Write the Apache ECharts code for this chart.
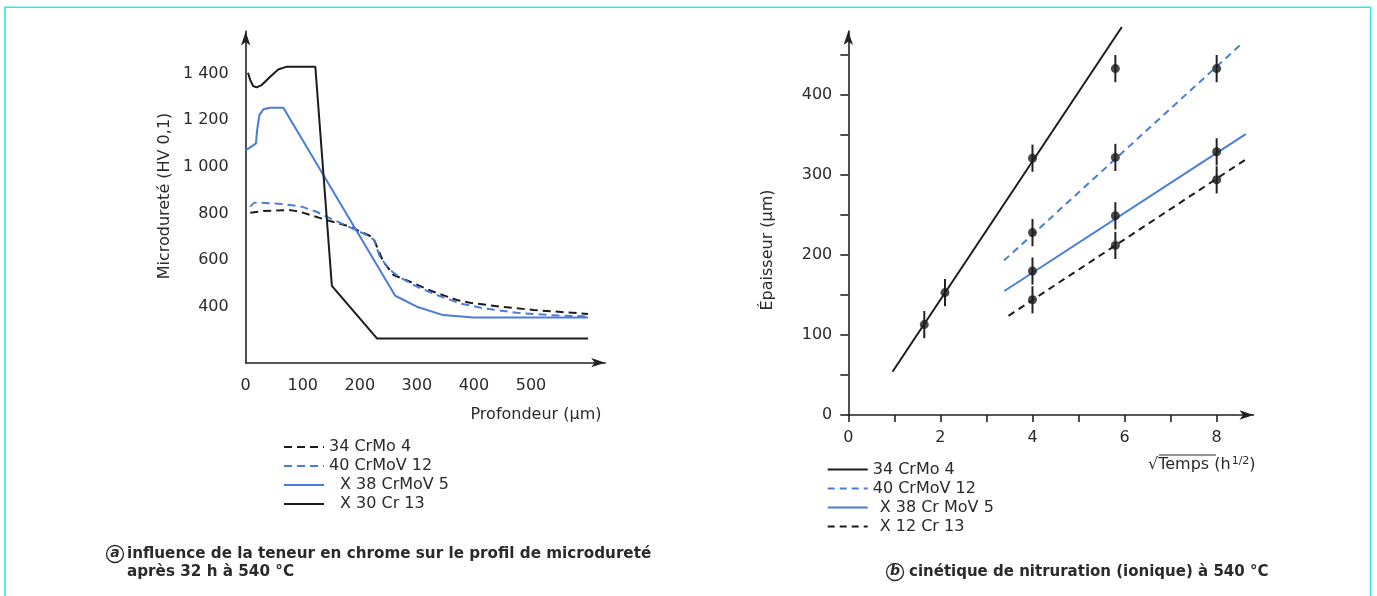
<!DOCTYPE html>
<html>
<head>
<meta charset="utf-8">
<script src="https://cdn.jsdelivr.net/npm/echarts@6/dist/echarts.min.js"></script>
<style>html,body{margin:0;padding:0;background:#fff}#c{width:1377px;height:596px}</style>
</head>
<body>
<div id="c"></div>
<script>
// ---------- Chart (a): microdureté vs profondeur ----------
const a_34CrMo4_depth = [8, 31, 78, 95, 113, 142, 183, 218, 225, 241, 259, 288, 329, 370, 393, 446, 504, 600];
const a_34CrMo4_hv    = [803, 810, 814, 807, 793, 771, 743, 703, 686, 593, 536, 507, 464, 429, 417, 400, 386, 369];

const a_40CrMoV12_depth = [8, 15, 25, 66, 98, 124, 148, 183, 218, 225, 235, 253, 268, 300, 335, 376, 417, 475, 533, 600];
const a_40CrMoV12_hv    = [829, 846, 846, 840, 829, 807, 779, 740, 700, 686, 614, 557, 529, 486, 450, 414, 393, 374, 364, 358];

const a_X38CrMoV5_depth = [0, 8, 18, 20, 24, 31, 43, 66, 262, 300, 346, 399, 600];
const a_X38CrMoV5_hv    = [1071, 1083, 1100, 1157, 1221, 1246, 1253, 1253, 447, 400, 364, 354, 354];

const a_X30Cr13_depth = [4, 8, 13, 19, 28, 43, 57, 72, 122, 151, 230, 600];
const a_X30Cr13_hv    = [1403, 1371, 1346, 1340, 1350, 1386, 1417, 1429, 1429, 489, 264, 264];

const a_xTickLabels = [0, 100, 200, 300, 400, 500];
const a_yTickLabels = [400, 600, 800, 1000, 1200, 1400];

// ---------- Chart (b): épaisseur vs racine du temps ----------
const b_time      = [1.65, 2.1, 4, 4, 4, 4, 5.8, 5.8, 5.8, 5.8, 8, 8, 8];
const b_thickness = [113, 153, 321, 228, 180, 144, 433, 322, 249, 212, 433, 329, 294];
const b_error     = [17, 17, 17, 17, 17, 17, 17, 17, 17, 17, 17, 17, 17];

const b_34CrMo4_x   = [0.96, 5.94];
const b_34CrMo4_y   = [54, 485];
const b_40CrMoV12_x = [3.38, 8.56];
const b_40CrMoV12_y = [193, 465];
const b_X38CrMoV5_x = [3.39, 8.63];
const b_X38CrMoV5_y = [155, 351];
const b_X12Cr13_x   = [3.48, 8.70];
const b_X12Cr13_y   = [124, 322];

const b_xTickLabels = [0, 2, 4, 6, 8];
const b_xTicks      = [0, 1, 2, 3, 4, 5, 6, 7, 8];
const b_yTickLabels = [0, 100, 200, 300, 400];
const b_yTicks      = [0, 50, 100, 150, 200, 250, 300, 350, 400, 450];

// ---------- styling ----------
const FONT = 'DejaVu Sans';
const TXT = '#2a2a2a';
const AXC = '#222';
const BLACK = '#1c1c1c';
const BLUE = '#4a7dd8';
const zip = (xs, ys) => xs.map((x, i) => [x, ys[i]]);

function lineSeries(name, xs, ys, color, type, xi) {
  return {
    name, type: 'line', xAxisIndex: xi, yAxisIndex: xi,
    data: zip(xs, ys), symbol: 'none', clip: false, animation: false,
    lineStyle: { color, width: 2, type }, itemStyle: { color }, z: 2
  };
}
const thousand = v => v >= 1000 ? Math.floor(v / 1000) + ' ' + String(v % 1000).padStart(3, '0') : String(v);

const axisLineStyle = { onZero: false, symbol: ['none', 'arrow'], symbolSize: [7, 14], lineStyle: { color: AXC, width: 1.6 } };
const lblBase = { fontSize: 16, fontFamily: FONT, color: TXT };
const hiddenSym = { opacity: 0, color: 'rgba(0,0,0,0)', borderWidth: 0 };
const legItem = (name, color, type) => ({ name, lineStyle: { color, type, width: 2 }, itemStyle: hiddenSym });

const chart = echarts.init(document.getElementById('c'), null, { renderer: 'canvas' });

const option = {
  backgroundColor: '#ffffff',
  animation: false,
  grid: [
    { left: 245.7, top: 31.4, width: 359.5, height: 331.3, outerBoundsMode: 'none' },
    { left: 848.3, top: 31, width: 405.2, height: 384, outerBoundsMode: 'none' }
  ],
  xAxis: [
    { type: 'value', gridIndex: 0, min: 0, max: 630,
      axisLine: axisLineStyle, axisTick: { show: false }, splitLine: { show: false },
      axisLabel: Object.assign({ customValues: a_xTickLabels, margin: 15 }, lblBase) },
    { type: 'value', gridIndex: 1, min: 0, max: 8.8,
      axisLine: axisLineStyle, splitLine: { show: false },
      axisTick: { customValues: b_xTicks, length: 7, lineStyle: { color: AXC, width: 1.6 } },
      axisLabel: Object.assign({ customValues: b_xTickLabels, margin: 15 }, lblBase) }
  ],
  yAxis: [
    { type: 'value', gridIndex: 0, min: 160, max: 1580,
      axisLine: axisLineStyle, axisTick: { show: false }, splitLine: { show: false },
      axisLabel: Object.assign({ customValues: a_yTickLabels, margin: 17, formatter: thousand }, lblBase) },
    { type: 'value', gridIndex: 1, min: 0, max: 480,
      axisLine: axisLineStyle, splitLine: { show: false },
      axisTick: { customValues: b_yTicks, length: 8, lineStyle: { color: AXC, width: 1.6 } },
      axisLabel: Object.assign({ customValues: b_yTickLabels, margin: 16 }, lblBase) }
  ],
  legend: [
    { orient: 'vertical', left: 283, top: 439, padding: 0, itemWidth: 40, itemHeight: 14, itemGap: 3,
      selectedMode: false, itemStyle: hiddenSym,
      textStyle: Object.assign({ rich: { ind: { padding: [0, 0, 0, 11], fontSize: 16, fontFamily: FONT, color: TXT } } }, lblBase),
      formatter: n => n.startsWith('X') ? '{ind|' + n + '}' : n,
      data: [
        legItem('34 CrMo 4', BLACK, [8, 5]),
        legItem('40 CrMoV 12', BLUE, [8, 5]),
        legItem('X 38 CrMoV 5', BLUE, 'solid'),
        legItem('X 30 Cr 13', BLACK, 'solid')
      ] },
    { orient: 'vertical', left: 826.7, top: 461.5, padding: 0, itemWidth: 40, itemHeight: 14, itemGap: 3,
      selectedMode: false, itemStyle: hiddenSym,
      textStyle: Object.assign({ rich: { ind: { padding: [0, 0, 0, 7], fontSize: 16, fontFamily: FONT, color: TXT } } }, lblBase),
      formatter: n => n.startsWith('X') ? '{ind|' + n + '}' : n,
      data: [
        legItem('34 CrMo 4', BLACK, 'solid'),
        legItem('40 CrMoV 12', BLUE, [7, 5]),
        legItem('X 38 Cr MoV 5', BLUE, 'solid'),
        legItem('X 12 Cr 13', BLACK, [7, 5])
      ] }
  ],
  series: [
    lineSeries('34 CrMo 4', a_34CrMo4_depth, a_34CrMo4_hv, BLACK, [8, 5], 0),
    lineSeries('40 CrMoV 12', a_40CrMoV12_depth, a_40CrMoV12_hv, BLUE, [8, 5], 0),
    lineSeries('X 38 CrMoV 5', a_X38CrMoV5_depth, a_X38CrMoV5_hv, BLUE, 'solid', 0),
    lineSeries('X 30 Cr 13', a_X30Cr13_depth, a_X30Cr13_hv, BLACK, 'solid', 0),
    lineSeries('34 CrMo 4 ', b_34CrMo4_x, b_34CrMo4_y, BLACK, 'solid', 1),
    lineSeries('40 CrMoV 12 ', b_40CrMoV12_x, b_40CrMoV12_y, BLUE, [7, 5], 1),
    lineSeries('X 38 Cr MoV 5', b_X38CrMoV5_x, b_X38CrMoV5_y, BLUE, 'solid', 1),
    lineSeries('X 12 Cr 13', b_X12Cr13_x, b_X12Cr13_y, BLACK, [7, 5], 1),
    { name: 'erreur', type: 'custom', xAxisIndex: 1, yAxisIndex: 1, z: 3, animation: false,
      data: b_time.map((t, i) => [t, b_thickness[i], b_error[i]]),
      renderItem: (params, api) => {
        const x = api.value(0), y = api.value(1), e = api.value(2);
        const p1 = api.coord([x, y - e]), p2 = api.coord([x, y + e]);
        return { type: 'line', shape: { x1: p1[0], y1: p1[1], x2: p2[0], y2: p2[1] },
                 style: { stroke: '#222', lineWidth: 2 } };
      } },
    { name: 'mesures', type: 'scatter', xAxisIndex: 1, yAxisIndex: 1, z: 4, animation: false,
      data: zip(b_time, b_thickness), symbolSize: 9, itemStyle: { color: BLACK } }
  ],
  graphic: [
    { type: 'rect', shape: { x: 5, y: 7.3, width: 1365.7, height: 640 }, style: { fill: 'none', stroke: '#2ee6ee', lineWidth: 1.6 }, silent: true },
    { type: 'text', x: 536, y: 415, style: { text: 'Profondeur (µm)', align: 'center', verticalAlign: 'middle', font: '16px "DejaVu Sans"', fill: TXT } },
    { type: 'text', x: 165, y: 196, rotation: Math.PI / 2, style: { text: 'Microdureté (HV 0,1)', align: 'center', verticalAlign: 'middle', font: '16px "DejaVu Sans"', fill: TXT } },
    { type: 'text', x: 768, y: 250, rotation: Math.PI / 2, style: { text: 'Épaisseur (µm)', align: 'center', verticalAlign: 'middle', font: '16px "DejaVu Sans"', fill: TXT } },
    { type: 'text', x: 1148, y: 465, style: {
        text: '√Temps (h{s|1/2})', align: 'left', verticalAlign: 'middle', font: '16px "DejaVu Sans"', fill: TXT,
        rich: { s: { fontSize: 11, fontFamily: FONT, fill: TXT, verticalAlign: 'top', padding: [0, 0, 8, 1] } } } },
    { type: 'line', shape: { x1: 1159, y1: 455, x2: 1216, y2: 455 }, style: { stroke: TXT, lineWidth: 1.2 } },
    // caption (a)
    { type: 'circle', shape: { cx: 115, cy: 554, r: 8.5 }, style: { fill: 'none', stroke: TXT, lineWidth: 1.3 } },
    { type: 'text', x: 115, y: 553, style: { text: 'a', align: 'center', verticalAlign: 'middle', font: 'italic bold 14px "DejaVu Sans"', fill: TXT } },
    { type: 'text', x: 127, y: 554, style: { text: 'influence de la teneur en chrome sur le profil de microdureté', align: 'left', verticalAlign: 'middle', font: 'bold 15.2px "DejaVu Sans"', fill: TXT } },
    { type: 'text', x: 127, y: 572, style: { text: 'après 32 h à 540 °C', align: 'left', verticalAlign: 'middle', font: 'bold 15.2px "DejaVu Sans"', fill: TXT } },
    // caption (b)
    { type: 'circle', shape: { cx: 895, cy: 572, r: 8.5 }, style: { fill: 'none', stroke: TXT, lineWidth: 1.3 } },
    { type: 'text', x: 895, y: 571, style: { text: 'b', align: 'center', verticalAlign: 'middle', font: 'italic bold 14px "DejaVu Sans"', fill: TXT } },
    { type: 'text', x: 909, y: 572, style: { text: 'cinétique de nitruration (ionique) à 540 °C', align: 'left', verticalAlign: 'middle', font: 'bold 15px "DejaVu Sans"', fill: TXT } }
  ]
};
chart.setOption(option);
</script>
</body>
</html>
